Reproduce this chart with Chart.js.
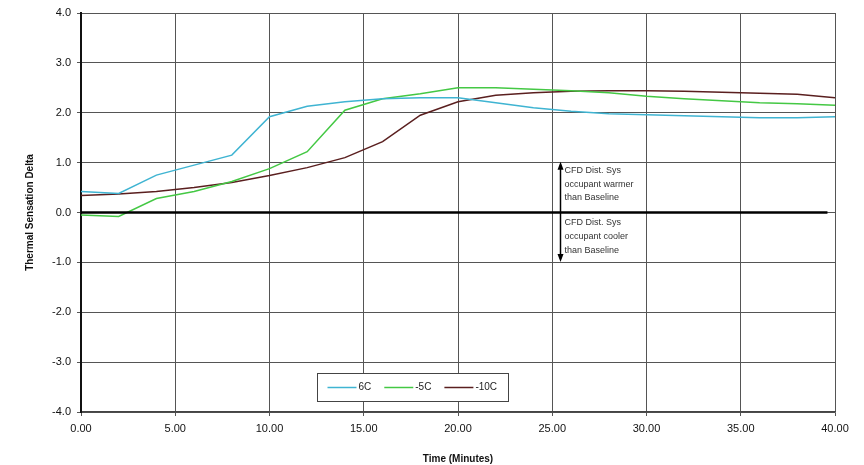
<!DOCTYPE html>
<html>
<head>
<meta charset="utf-8">
<script src="https://cdn.jsdelivr.net/npm/chart.js@4/dist/chart.umd.min.js"></script>
<style>
  html, body { margin: 0; padding: 0; background: #fff; }
  #wrap { width: 864px; height: 465px; }
</style>
</head>
<body>
<div id="wrap"><canvas id="grafico" width="864" height="465"></canvas></div>
<script>
// dados
const tempos = [0, 2, 4, 6, 8, 10, 12, 14, 16, 18, 20, 22, 24, 26, 28, 30, 32, 34, 36, 38, 40];
const serie6C = [0.42, 0.38, 0.75, 0.95, 1.15, 1.92, 2.13, 2.22, 2.28, 2.30, 2.30, 2.20, 2.10, 2.03, 1.98, 1.96, 1.94, 1.92, 1.90, 1.90, 1.92];
const serieMenos5C = [-0.05, -0.08, 0.28, 0.42, 0.62, 0.88, 1.22, 2.05, 2.28, 2.38, 2.50, 2.50, 2.47, 2.44, 2.40, 2.33, 2.28, 2.24, 2.20, 2.18, 2.15];
const serieMenos10C = [0.34, 0.37, 0.42, 0.50, 0.60, 0.74, 0.90, 1.10, 1.42, 1.95, 2.22, 2.35, 2.40, 2.43, 2.44, 2.44, 2.43, 2.41, 2.39, 2.37, 2.30];
const nomesSeries = ['6C', '-5C', '-10C'];
const coresSeries = ['#3fb4d2', '#44c844', '#5a1f1f'];
const textoAcima = ['CFD Dist. Sys', 'occupant warmer', 'than Baseline'];
const textoAbaixo = ['CFD Dist. Sys', 'occupant cooler', 'than Baseline'];
const posicaoSeta = 25.4;

const fonte = "'Liberation Sans', Arial, sans-serif";

function pontos(valores) {
  return tempos.map((t, i) => ({ x: t, y: valores[i] }));
}

// linha do zero, seta com textos e legenda desenhados por cima
const extras = {
  id: 'extras',
  afterDatasetsDraw(chart) {
    const { ctx, scales: { x, y } } = chart;
    ctx.save();

    // linha do zero
    ctx.strokeStyle = '#000';
    ctx.lineWidth = 2.5;
    ctx.beginPath();
    ctx.moveTo(x.left, y.getPixelForValue(0));
    ctx.lineTo(x.getPixelForValue(39.6), y.getPixelForValue(0));
    ctx.stroke();

    // seta vertical
    const sx = Math.round(x.getPixelForValue(posicaoSeta)) + 0.5;
    const yTopo = y.getPixelForValue(1.0);
    const yBase = y.getPixelForValue(-0.97);
    ctx.lineWidth = 1.5;
    ctx.beginPath();
    ctx.moveTo(sx, yTopo + 2);
    ctx.lineTo(sx, yBase - 2);
    ctx.stroke();
    ctx.fillStyle = '#000';
    ctx.beginPath();
    ctx.moveTo(sx, yTopo - 1);
    ctx.lineTo(sx - 3, yTopo + 7);
    ctx.lineTo(sx + 3, yTopo + 7);
    ctx.closePath();
    ctx.fill();
    ctx.beginPath();
    ctx.moveTo(sx, yBase + 1);
    ctx.lineTo(sx - 3, yBase - 7);
    ctx.lineTo(sx + 3, yBase - 7);
    ctx.closePath();
    ctx.fill();

    ctx.font = '9px ' + fonte;
    ctx.fillStyle = '#333';
    ctx.textAlign = 'left';
    ctx.textBaseline = 'middle';
    textoAcima.forEach((t, i) => ctx.fillText(t, sx + 4, yTopo + 8 + i * 13.5));
    textoAbaixo.forEach((t, i) => ctx.fillText(t, sx + 4, y.getPixelForValue(0) + 10 + i * 14));

    // legenda
    const cx = x.getPixelForValue(17.6);
    const cy = y.getPixelForValue(-3.5);
    const larg = 191, alt = 28;
    const lx = Math.round(cx - larg / 2) + 0.5;
    const ly = Math.round(cy - alt / 2) + 0.5;
    ctx.fillStyle = '#fff';
    ctx.fillRect(lx, ly, larg, alt);
    ctx.strokeStyle = '#444';
    ctx.lineWidth = 1;
    ctx.strokeRect(lx, ly, larg, alt);
    ctx.font = '10px ' + fonte;
    ctx.textBaseline = 'middle';
    let px = lx + 10;
    nomesSeries.forEach((nome, i) => {
      ctx.strokeStyle = coresSeries[i];
      ctx.lineWidth = 1.5;
      ctx.beginPath();
      ctx.moveTo(px, ly + alt / 2);
      ctx.lineTo(px + 29, ly + alt / 2);
      ctx.stroke();
      ctx.fillStyle = '#222';
      ctx.fillText(nome, px + 31, ly + alt / 2);
      px += 31 + ctx.measureText(nome).width + 13;
    });

    ctx.restore();
  }
};

new Chart(document.getElementById('grafico'), {
  type: 'line',
  data: {
    datasets: [
      { label: nomesSeries[0], data: pontos(serie6C), borderColor: coresSeries[0] },
      { label: nomesSeries[1], data: pontos(serieMenos5C), borderColor: coresSeries[1] },
      { label: nomesSeries[2], data: pontos(serieMenos10C), borderColor: coresSeries[2] }
    ].map(d => Object.assign(d, { borderWidth: 1.5, pointRadius: 0, tension: 0, fill: false }))
  },
  options: {
    responsive: false,
    animation: false,
    events: [],
    layout: { padding: { top: 13, right: 29, bottom: 0, left: 24 } },
    plugins: {
      legend: { display: false },
      tooltip: { enabled: false }
    },
    scales: {
      x: {
        type: 'linear',
        min: 0,
        max: 40,
        ticks: {
          stepSize: 5,
          color: '#111',
          font: { family: fonte, size: 11 },
          padding: 6,
          callback: v => v.toFixed(2)
        },
        grid: { color: '#555', lineWidth: 1, tickLength: 4 },
        border: { color: '#444', width: 1.5 },
        title: {
          display: true,
          text: 'Time (Minutes)',
          color: '#111',
          font: { family: fonte, size: 10, weight: 'bold' },
          padding: { top: 6, bottom: 0 }
        },
        afterFit: s => { s.height = 53; }
      },
      y: {
        min: -4,
        max: 4,
        ticks: {
          stepSize: 1,
          color: '#111',
          font: { family: fonte, size: 11 },
          padding: 6,
          callback: v => v.toFixed(1)
        },
        grid: { color: '#555', lineWidth: 1, tickLength: 4 },
        border: { color: '#111', width: 2 },
        title: {
          display: true,
          text: 'Thermal Sensation Delta',
          color: '#111',
          font: { family: fonte, size: 10, weight: 'bold' },
          padding: { top: 0, bottom: 6 }
        },
        afterFit: s => { s.width = 57; }
      }
    }
  },
  plugins: [extras]
});
</script>
</body>
</html>
